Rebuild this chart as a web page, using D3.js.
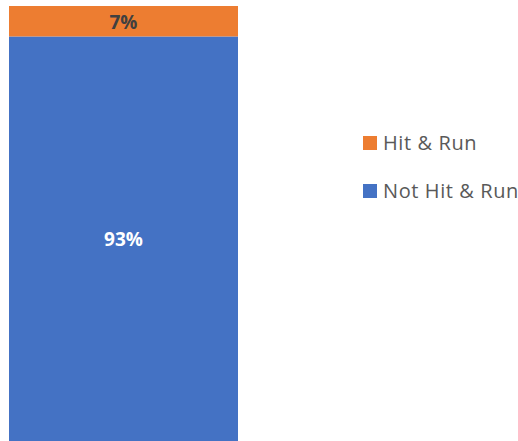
<!DOCTYPE html>
<html>
<head>
<meta charset="utf-8">
<script src="https://cdn.jsdelivr.net/npm/d3@7"></script>
<style>
  body { margin: 0; background: #fff; }
  text { font-family: "Open Sans", "Liberation Sans", sans-serif; }
</style>
</head>
<body>
<div id="chart"></div>
<script>
// data
var categories = ["Not Hit & Run", "Hit & Run"]
var values = [93, 7]
var colors = ["#4472c4", "#ed7d31"]
var labelColors = ["#ffffff", "#404040"]

var width = 518, height = 441

var svg = d3.select("#chart").append("svg")
  .attr("width", width)
  .attr("height", height)

var x = d3.scaleBand().domain(["all"]).range([9, 238]).padding(0)
var y = d3.scaleLinear().domain([0, 100]).range([441, 6])

// stack from bottom
var stacked = []
var acc = 0
for (var i = 0; i < values.length; i++) {
  stacked.push({ name: categories[i], v: values[i], y0: acc, y1: acc + values[i], color: colors[i], lc: labelColors[i] })
  acc += values[i]
}

var g = svg.append("g")
g.selectAll("rect").data(stacked).enter().append("rect")
  .attr("x", x("all"))
  .attr("width", x.bandwidth())
  .attr("y", function (d) { return y(d.y1) })
  .attr("height", function (d) { return y(d.y0) - y(d.y1) })
  .attr("fill", function (d) { return d.color })

g.selectAll("text.lbl").data(stacked).enter().append("text")
  .attr("class", "lbl")
  .attr("x", x("all") + x.bandwidth() / 2)
  .attr("y", function (d) { return (y(d.y0) + y(d.y1)) / 2 + 1 })
  .attr("dy", "0.35em")
  .attr("text-anchor", "middle")
  .attr("font-size", 19)
  .attr("font-weight", "bold")
  .attr("fill", function (d) { return d.lc })
  .text(function (d) { return d.v + "%" })

// legend: top-most series first
var legendItems = stacked.slice().reverse()
var legend = svg.append("g").attr("transform", "translate(363,143)")
var item = legend.selectAll("g").data(legendItems).enter().append("g")
  .attr("transform", function (d, i) { return "translate(0," + (i * 48) + ")" })
item.append("rect")
  .attr("x", 0).attr("y", -7)
  .attr("width", 14).attr("height", 14)
  .attr("fill", function (d) { return d.color })
item.append("text")
  .attr("x", 20)
  .attr("y", 0)
  .attr("dy", "0.35em")
  .attr("font-size", 20)
  .attr("letter-spacing", 0.6)
  .attr("fill", "#595959")
  .text(function (d) { return d.name })
</script>
</body>
</html>
